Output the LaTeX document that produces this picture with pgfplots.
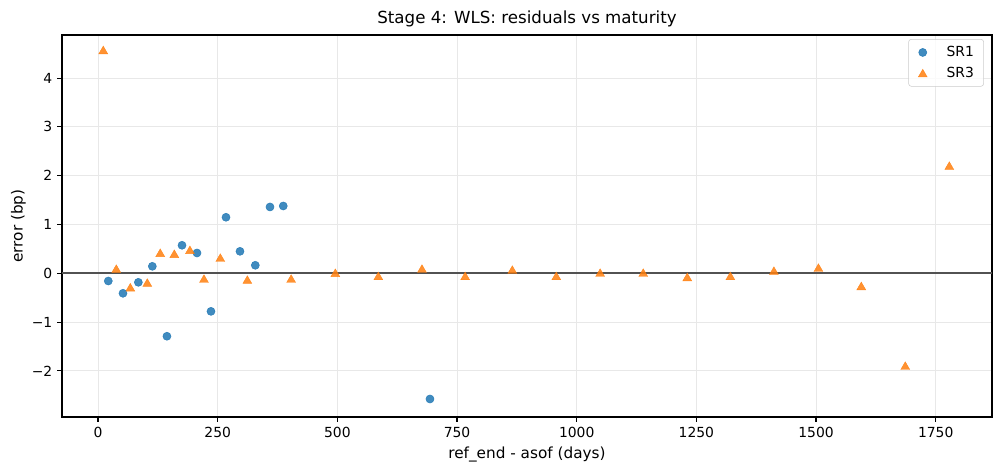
\documentclass[border=0pt]{standalone}
\usepackage{fontspec}
\setmainfont{DejaVu Sans}
\usepackage{pgfplots}
\pgfplotsset{compat=1.18}
\definecolor{tabblue}{HTML}{1F77B4}
\definecolor{taborange}{HTML}{FF7F0E}
\begin{document}
\begin{tikzpicture}
\path[use as bounding box] (0,0) rectangle (720pt,339.84pt);
\begin{axis}[
  at={(44.64pt,39.6pt)}, anchor=south west, scale only axis,
  width=669.6pt, height=275.04pt,
  xmin=-75.2, xmax=1867.6, ymin=-2.945, ymax=4.883,
  axis line style={line width=0.8pt},
  tick pos=left, tick align=outside, major tick length=3.5pt,
  tick style={line width=0.8pt, black},
  xtick={0,250,500,750,1000,1250,1500,1750},
  ytick={-2,-1,0,1,2,3,4},
  yticklabels={−2,−1,0,1,2,3,4},
  /pgf/number format/assume math mode=true,
  /pgf/number format/1000 sep={},
  ticklabel style={font=\fontsize{10}{12}\selectfont},
  grid=major, grid style={line width=0.6pt, black!9},
  title={Stage 4: WLS: residuals vs maturity},
  title style={font=\fontsize{12}{14}\selectfont, yshift=-4pt},
  xlabel={ref\_end - asof (days)},
  ylabel={error (bp)},
  ylabel style={yshift=-2.5pt},
  label style={font=\fontsize{11}{13}\selectfont},
  legend style={at={(1,1)}, anchor=north east, xshift=-5.8pt, yshift=-2.9pt,
    draw=black!20, rounded corners=2pt, fill=white, fill opacity=0.8, text opacity=1,
    font=\fontsize{10}{12}\selectfont, row sep=2pt, inner xsep=3pt, inner ysep=3pt,
    nodes={inner xsep=4pt}},
  legend image code/.code={\path (-7pt,0pt) (13pt,0pt); \draw[#1] plot coordinates {(0pt,0pt)};},
  legend cell align=left,
]
\addplot[black!68, line width=1.3pt, forget plot] coordinates {(-75.2,0) (1867.6,0)};
\addplot[only marks, mark=*, mark size=2.9pt, opacity=0.85, mark options={draw=tabblue, fill=tabblue, line width=0.4pt}] coordinates {
(21.5,-0.158) (52.2,-0.41) (84.3,-0.185) (113.5,0.143) (144,-1.29) (175.5,0.574)
(206.8,0.416) (236,-0.78) (267.4,1.148) (296.6,0.45) (328.6,0.164) (359.3,1.359)
(387,1.379) (693.5,-2.576)
};
\addlegendentry{SR1}
\addplot[only marks, mark=triangle*, mark size=3.7pt, opacity=0.85, mark options={draw=taborange, fill=taborange, line width=0.3pt, yshift=-0.9pt}] coordinates {
(11,4.576) (38.2,0.094) (67.5,-0.287) (103,-0.19) (130,0.42) (159.4,0.40) (192,0.48)
(221.4,-0.11) (255.5,0.32) (312,-0.13) (403.5,-0.11) (495.8,0.01) (585.6,-0.055)
(676.8,0.095) (767,-0.055) (865.5,0.074) (957.4,-0.055) (1049,0.013) (1139,0.013)
(1231,-0.076) (1321,-0.055) (1412,0.053) (1505,0.115) (1594.5,-0.26) (1686.4,-1.893)
(1778.4,2.205)
};
\addlegendentry{SR3}
\end{axis}
\end{tikzpicture}
\end{document}
